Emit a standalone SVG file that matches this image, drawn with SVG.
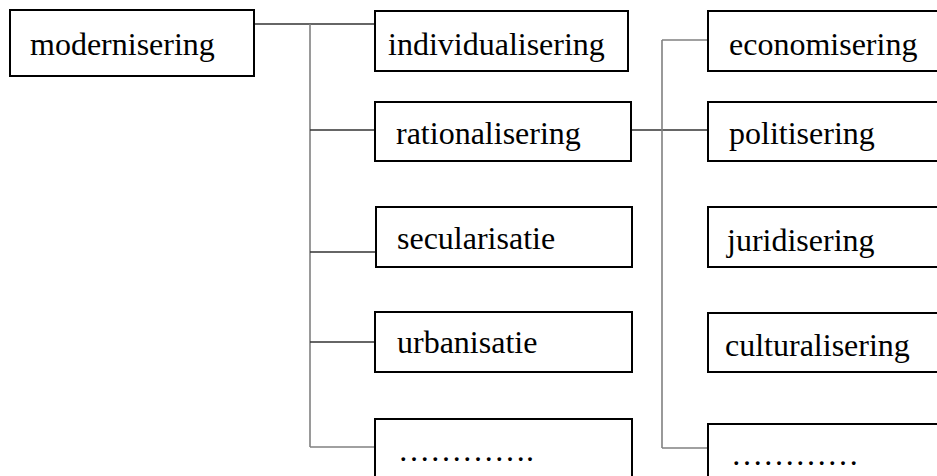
<svg xmlns="http://www.w3.org/2000/svg" width="937" height="476" viewBox="0 0 937 476">
<style>
.box{fill:#fff;stroke:#000;stroke-width:2}
.t{font-family:'Liberation Serif',serif;font-size:32px}
.h{stroke:#333;stroke-width:1.3;fill:none}
.v{stroke:#808080;stroke-width:1.6;fill:none}
</style>
<rect width="937" height="476" fill="#fff"/>
<g id="connectors">
<path class="h" d="M254,24 H375"/>
<path class="v" d="M310,24 V447"/>
<path class="h" d="M310,130 H375"/>
<path class="h" d="M310,252 H376"/>
<path class="h" d="M310,342 H375"/>
<path class="v" d="M310,447 H375"/>
<path class="h" d="M631,130 H708"/>
<path class="v" d="M662,40 V448"/>
<path class="v" d="M662,40 H708"/>
<path class="v" d="M662,448 H708"/>
</g>
<g id="modernisering"><rect class="box" x="10" y="10" width="244" height="66"/><text class="t" font-family="Liberation Serif" font-size="32" x="30" y="55">modernisering</text></g>
<g id="individualisering"><rect class="box" x="375" y="11" width="253" height="60"/><text class="t" font-family="Liberation Serif" font-size="32" x="388" y="55">individualisering</text></g>
<g id="rationalisering"><rect class="box" x="375" y="102" width="256" height="59"/><text class="t" font-family="Liberation Serif" font-size="32" x="396" y="144">rationalisering</text></g>
<g id="secularisatie"><rect class="box" x="376" y="207" width="256" height="60"/><text class="t" font-family="Liberation Serif" font-size="32" x="397" y="249">secularisatie</text></g>
<g id="urbanisatie"><rect class="box" x="375" y="312" width="257" height="60"/><text class="t" font-family="Liberation Serif" font-size="32" x="397" y="353">urbanisatie</text></g>
<g id="etc-left"><rect class="box" x="375" y="419" width="257" height="80"/><text class="t" font-family="Liberation Serif" font-size="32" x="398" y="461">………….</text></g>
<g id="economisering"><rect class="box" x="708" y="11" width="240" height="60"/><text class="t" font-family="Liberation Serif" font-size="32" x="729" y="55">economisering</text></g>
<g id="politisering"><rect class="box" x="708" y="102" width="240" height="59"/><text class="t" font-family="Liberation Serif" font-size="32" x="729" y="144">politisering</text></g>
<g id="juridisering"><rect class="box" x="708" y="207" width="240" height="60"/><text class="t" font-family="Liberation Serif" font-size="32" x="727" y="251">juridisering</text></g>
<g id="culturalisering"><rect class="box" x="708" y="313" width="240" height="59"/><text class="t" font-family="Liberation Serif" font-size="32" x="725" y="356">culturalisering</text></g>
<g id="etc-right"><rect class="box" x="708" y="424" width="240" height="80"/><text class="t" font-family="Liberation Serif" font-size="32" x="731" y="465">…………</text></g>
</svg>
